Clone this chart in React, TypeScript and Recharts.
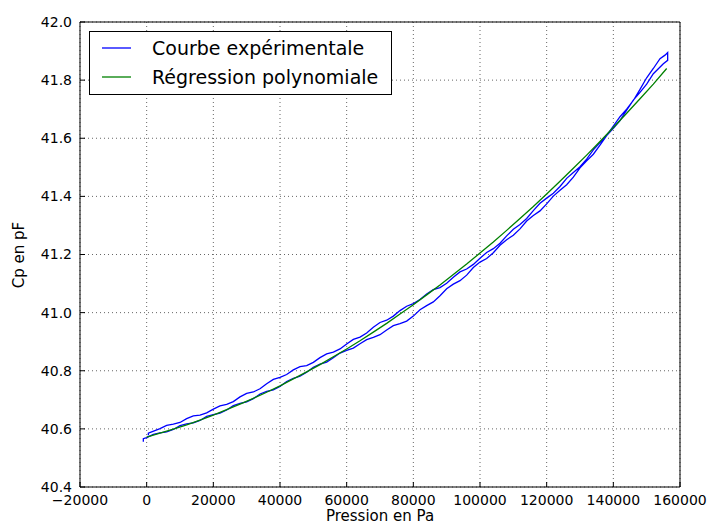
import { FC } from 'react';
import {
  LineChart,
  Line,
  XAxis,
  YAxis,
  CartesianGrid,
  Legend,
  Label
} from 'recharts';

// Mesures, montée en pression
const pressureUp = [
  -1000, -1000,
  0, 2000, 4000, 6000, 8000, 10000, 12000, 14000, 16000, 18000,
  20000, 22000, 24000, 26000, 28000, 30000, 32000, 34000, 36000, 38000,
  40000, 42000, 44000, 46000, 48000, 50000, 52000, 54000, 56000, 58000,
  60000, 62000, 64000, 66000, 68000, 70000, 72000, 74000, 76000, 78000,
  80000, 82000, 84000, 86000, 88000, 90000, 92000, 94000, 96000, 98000,
  100000, 102000, 104000, 106000, 108000, 110000, 112000, 114000, 116000, 118000,
  120000, 122000, 124000, 126000, 128000, 130000, 132000, 134000, 136000, 138000,
  140000, 142000, 144000, 146000, 148000, 150000, 152000,
  155000, 156300
];
const cpUp = [
  40.556, 40.566,
  40.570, 40.581, 40.586, 40.590, 40.598, 40.611, 40.617, 40.621, 40.629, 40.643,
  40.649, 40.654, 40.665, 40.680, 40.688, 40.693, 40.704, 40.720, 40.729, 40.734,
  40.746, 40.763, 40.774, 40.781, 40.795, 40.812, 40.823, 40.830, 40.845, 40.861,
  40.870, 40.878, 40.893, 40.907, 40.915, 40.924, 40.940, 40.955, 40.962, 40.971,
  40.988, 41.010, 41.024, 41.037, 41.058, 41.082, 41.098, 41.110, 41.129, 41.155,
  41.174, 41.186, 41.206, 41.232, 41.251, 41.266, 41.288, 41.315, 41.334, 41.350,
  41.374, 41.401, 41.421, 41.440, 41.466, 41.498, 41.522, 41.545, 41.576, 41.609,
  41.634, 41.661, 41.697, 41.731, 41.758, 41.786, 41.822,
  41.856, 41.868
];

// Mesures, descente en pression
const pressureDown = [
  156300, 155500, 154000,
  152000, 150000, 148000, 146000, 144000, 142000, 140000, 138000, 136000, 134000,
  132000, 130000, 128000, 126000, 124000, 122000, 120000, 118000, 116000, 114000,
  112000, 110000, 108000, 106000, 104000, 102000, 100000, 98000, 96000, 94000,
  92000, 90000, 88000, 86000, 84000, 82000, 80000, 78000, 76000, 74000,
  72000, 70000, 68000, 66000, 64000, 62000, 60000, 58000, 56000, 54000,
  52000, 50000, 48000, 46000, 44000, 42000, 40000, 38000, 36000, 34000,
  32000, 30000, 28000, 26000, 24000, 22000, 20000, 18000, 16000, 14000,
  12000, 10000, 8000, 6000, 4000,
  1500, 500, 500
];
const cpDown = [
  41.895, 41.886, 41.874,
  41.840, 41.808, 41.768, 41.730, 41.700, 41.674, 41.642, 41.610, 41.585, 41.560,
  41.528, 41.502, 41.482, 41.462, 41.434, 41.411, 41.394, 41.376, 41.351, 41.324,
  41.303, 41.287, 41.264, 41.239, 41.220, 41.207, 41.187, 41.166, 41.150, 41.140,
  41.122, 41.101, 41.086, 41.079, 41.064, 41.045, 41.031, 41.022, 41.007, 40.988,
  40.974, 40.966, 40.950, 40.930, 40.916, 40.908, 40.892, 40.875, 40.864, 40.858,
  40.845, 40.829, 40.818, 40.814, 40.803, 40.787, 40.777, 40.770, 40.755, 40.738,
  40.727, 40.722, 40.710, 40.694, 40.684, 40.679, 40.668, 40.655, 40.647, 40.645,
  40.635, 40.622, 40.616, 40.612, 40.601,
  40.590, 40.585, 40.578
];

// Régression polynomiale
const pressureFit = [
  0, 4000, 8000, 12000, 16000, 20000, 24000, 28000, 32000, 36000, 40000, 44000,
  48000, 52000, 56000, 60000, 64000, 68000, 72000, 76000, 80000, 84000, 88000,
  92000, 96000, 100000, 104000, 108000, 112000, 116000, 120000, 124000, 128000,
  132000, 136000, 140000, 144000, 148000, 152000, 156000
];
const cpFit = [
  40.572, 40.585, 40.599, 40.614, 40.630, 40.647, 40.666, 40.685, 40.705, 40.726,
  40.748, 40.772, 40.796, 40.821, 40.848, 40.875, 40.903, 40.933, 40.963, 40.995,
  41.027, 41.061, 41.095, 41.131, 41.167, 41.205, 41.243, 41.283, 41.324, 41.365,
  41.408, 41.452, 41.497, 41.542, 41.589, 41.637, 41.686, 41.736, 41.786, 41.840
];

const xTicks = [-20000, 0, 20000, 40000, 60000, 80000, 100000, 120000, 140000, 160000];
const yTicks = [40.4, 40.6, 40.8, 41.0, 41.2, 41.4, 41.6, 41.8, 42.0];

const seriesNames = ['Courbe expérimentale', 'Régression polynomiale'];
const seriesColors = ['#0000ff', '#008000'];

const FONT = '"DejaVu Sans", sans-serif';

// one loop: up then back down
const experimentalData = [
  ...pressureUp.map((p, i) => ({ p, cp: cpUp[i] })),
  ...pressureDown.map((p, i) => ({ p, cp: cpDown[i] }))
];
const fitData = pressureFit.map((p, i) => ({ p, cp: cpFit[i] }));

const formatX = (v: number): string => String(v).replace('-', '\u2212');
const formatY = (v: number): string => v.toFixed(1);

// Legend box drawn like the matplotlib one
const LegendBox: FC = () => (
  <div
    style={{
      width: 303,
      height: 64,
      boxSizing: 'border-box',
      border: '1px solid #000',
      background: '#fff',
      position: 'relative',
      fontFamily: FONT,
      fontSize: 19,
      color: '#000'
    }}
  >
    {seriesNames.map((name, i) => (
      <div
        key={name}
        style={{
          position: 'absolute',
          left: 0,
          top: 16 + i * 29 - 12,
          height: 24,
          display: 'flex',
          alignItems: 'center',
          whiteSpace: 'nowrap'
        }}
      >
        <svg width={62} height={24}>
          <line x1={12} x2={41} y1={12} y2={12} stroke={seriesColors[i]} strokeWidth={1.3} />
        </svg>
        <span>{name}</span>
      </div>
    ))}
  </div>
);

const App: FC = () => {
  return (
    <div style={{ position: 'absolute', left: 0, top: 0, fontFamily: FONT }}>
      <LineChart
        width={711}
        height={532}
        margin={{ top: 21, right: 30, bottom: 0, left: 0 }}
      >
        <CartesianGrid stroke="#666" strokeDasharray="1 3" strokeWidth={1} />
        <XAxis
          dataKey="p"
          type="number"
          domain={[-20000, 160000]}
          ticks={xTicks}
          allowDataOverflow
          height={45}
          tickFormatter={formatX}
          tickSize={-5}
          tickMargin={13}
          stroke="#000"
          tick={{ fill: '#000', fontSize: 14, fontFamily: FONT }}
        >
          <Label
            content={() => (
              <text
                x={380}
                y={521}
                textAnchor="middle"
                fontSize={15}
                fontFamily={FONT}
                fill="#000"
              >
                Pression en Pa
              </text>
            )}
          />
        </XAxis>
        <XAxis
          xAxisId="top"
          orientation="top"
          type="number"
          domain={[-20000, 160000]}
          ticks={xTicks}
          allowDataOverflow
          height={1}
          tick={false}
          tickSize={-5}
          stroke="#000"
        />
        <YAxis
          type="number"
          domain={[40.4, 42.0]}
          ticks={yTicks}
          allowDataOverflow
          width={80}
          tickFormatter={formatY}
          tickSize={-5}
          tickMargin={13}
          stroke="#000"
          tick={{ fill: '#000', fontSize: 14, fontFamily: FONT }}
        >
          <Label
            content={() => (
              <text
                x={24}
                y={255}
                transform="rotate(-90 24 255)"
                textAnchor="middle"
                fontSize={15}
                fontFamily={FONT}
                fill="#000"
              >
                Cp en pF
              </text>
            )}
          />
        </YAxis>
        <YAxis
          yAxisId="right"
          orientation="right"
          type="number"
          domain={[40.4, 42.0]}
          ticks={yTicks}
          allowDataOverflow
          width={1}
          tick={false}
          tickSize={-5}
          stroke="#000"
        />
        <Legend
          layout="horizontal"
          verticalAlign="middle"
          align="center"
          wrapperStyle={{ left: 89, top: 31, width: 303, height: 64 }}
          content={() => <LegendBox />}
        />
        <Line
          data={experimentalData}
          dataKey="cp"
          name={seriesNames[0]}
          type="linear"
          stroke={seriesColors[0]}
          strokeWidth={1.3}
          dot={false}
          isAnimationActive={false}
        />
        <Line
          data={fitData}
          dataKey="cp"
          name={seriesNames[1]}
          type="linear"
          stroke={seriesColors[1]}
          strokeWidth={1.3}
          dot={false}
          isAnimationActive={false}
        />
      </LineChart>
    </div>
  );
};

export default App;
